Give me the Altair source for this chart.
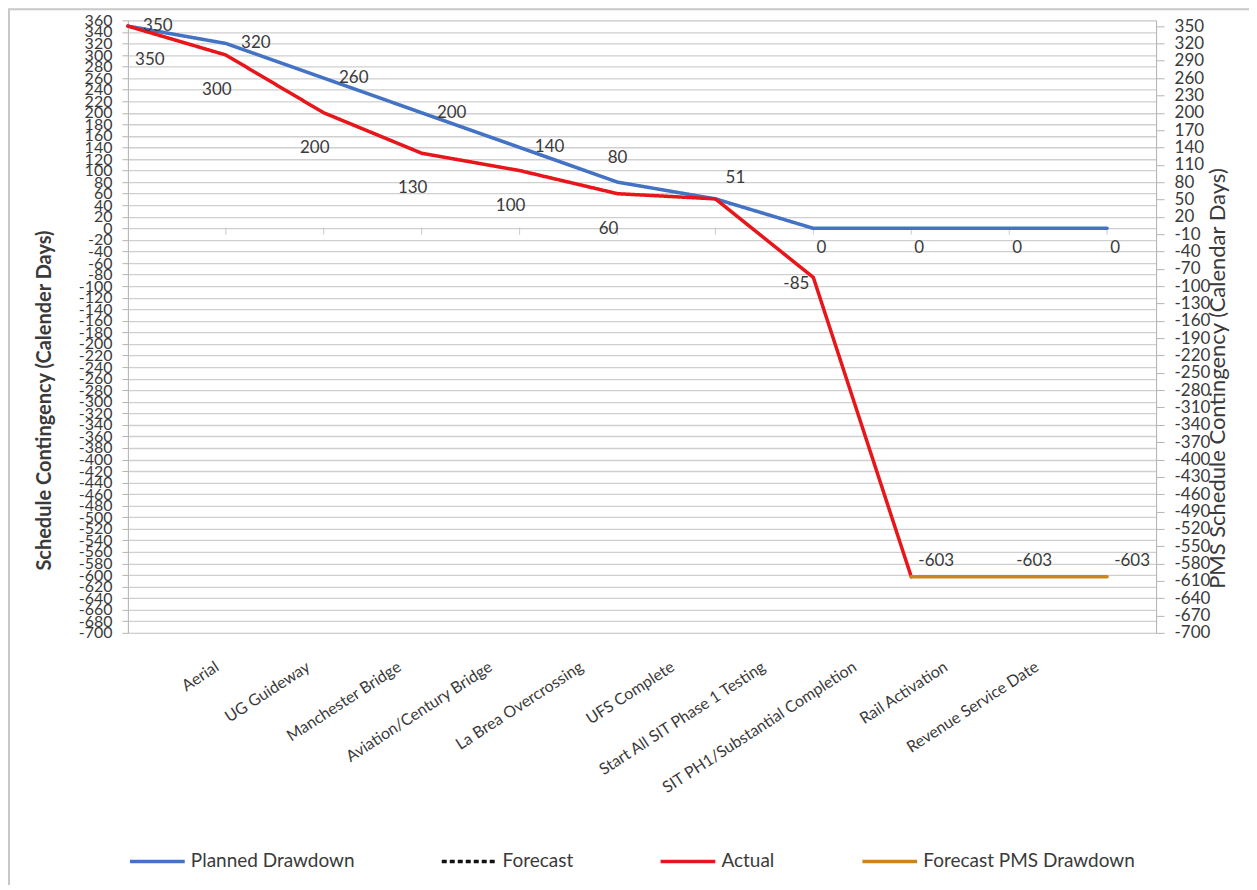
import altair as alt
import pandas as pd

# ---------------- data ----------------
categories = ["", "Aerial", "UG Guideway", "Manchester Bridge", "Aviation/Century Bridge",
              "La Brea Overcrossing", "UFS Complete", "Start All SIT Phase 1 Testing",
              "SIT PH1/Substantial Completion", "Rail Activation", "Revenue Service Date"]
planned = [350, 320, 260, 200, 140, 80, 51, 0, 0, 0, 0]
actual = [350, 300, 200, 130, 100, 60, 51, -85, -603, None, None]
forecast = [None] * 11
forecast_pms = [None, None, None, None, None, None, None, None, -603, -603, -603]

series_names = ["Planned Drawdown", "Forecast", "Actual", "Forecast PMS Drawdown"]
series_colors = ["#4472c4", "#111111", "#e8161b", "#c9861b"]
series_dash = [[1, 0], [5, 3], [1, 0], [1, 0]]

left_ticks = list(range(-700, 361, 20))
right_ticks = list(range(-700, 351, 30))


def to_long(name, vals):
    return [{"i": i, "v": v, "series": name} for i, v in enumerate(vals) if v is not None]


rows = (to_long("Planned Drawdown", planned) + to_long("Forecast", forecast)
        + to_long("Actual", actual) + to_long("Forecast PMS Drawdown", forecast_pms))
df = pd.DataFrame(rows)
cat_df = pd.DataFrame({"i": list(range(len(categories))), "cat": categories}).iloc[1:]

# ---------------- style ----------------
FONT = "Lato"
TXT = "#3a3a3a"
GRID = "#cfcfcf"
AXC = "#b5b5b5"

xs = alt.Scale(domain=[0, 10.5], nice=False, zero=False)
ys = alt.Scale(domain=[-700, 360], nice=False, zero=False)

legend = alt.Legend(orient="none", legendX=0, legendY=812, direction="horizontal", title=None,
                    symbolType="stroke", symbolSize=3000, symbolStrokeWidth=3.5,
                    labelFont=FONT, labelFontSize=19, labelColor=TXT, columnPadding=80,
                    labelOffset=4, labelLimit=500)

color = alt.Color("series:N", scale=alt.Scale(domain=series_names, range=series_colors), legend=legend)
dash = alt.StrokeDash("series:N", scale=alt.Scale(domain=series_names, range=series_dash), legend=legend)

left_axis = alt.Axis(values=left_ticks, labelOverlap=False, labelFlush=False, labelFont=FONT,
                     labelFontSize=16, labelColor=TXT, labelPadding=10, tickSize=6, tickColor=AXC,
                     domainColor=AXC, grid=True, gridColor=GRID, gridWidth=1.3,
                     title="Schedule Contingency (Calender Days)", titleFont=FONT, titleFontSize=20,
                     titleFontWeight="bold", titleColor=TXT, titleAngle=270, titleX=-83, titleY=380,
                     titleAlign="center", titleBaseline="middle")

right_axis = alt.Axis(orient="right", values=right_ticks, labelOverlap=False, labelFlush=False,
                      labelFont=FONT, labelFontSize=17, labelColor=TXT, labelPadding=10, tickSize=8,
                      tickColor=AXC, domainColor=AXC, grid=False,
                      title="PMS Schedule Contingency (Calendar Days)", titleFont=FONT,
                      titleFontSize=22, titleFontWeight="normal", titleColor=TXT, titleAngle=270,
                      titleX=61, titleY=358, titleAlign="center", titleBaseline="middle")

X = alt.X("i:Q", scale=xs, axis=None)
base = alt.Chart(df)


def line_layer(name, axis):
    return base.transform_filter(f"datum.series == '{name}'").mark_line(
        strokeWidth=3.5, strokeJoin="round", strokeCap="round").encode(
        x=X, y=alt.Y("v:Q", scale=ys, axis=axis, title=None if axis is None else axis.title),
        color=color, strokeDash=dash)


planned_line = line_layer("Planned Drawdown", left_axis)
forecast_line = line_layer("Forecast", None)
actual_line = line_layer("Actual", None)
pms_line = line_layer("Forecast PMS Drawdown", right_axis)

zero_ticks = alt.Chart(cat_df).transform_calculate(zero="0").mark_tick(
    orient="vertical", size=7, thickness=1, color=AXC, yOffset=3).encode(
    x=X, y=alt.Y("zero:Q", scale=ys, axis=None))

# light frame around the whole chart (top and left edges visible, as in the reference)
frame = alt.Chart(cat_df).transform_filter("datum.i == 1").mark_rect(
    fill=None, stroke="#c8c8c8", strokeWidth=2).encode(
    x=alt.value(-119), x2=alt.value(1400), y=alt.value(-11), y2=alt.value(1400))


def label_layer(name, cond, dx, dy):
    return base.transform_filter(f"datum.series == '{name}' && ({cond})").mark_text(
        dx=dx, dy=dy, font=FONT, fontSize=17, color=TXT).encode(
        x=X, y=alt.Y("v:Q", scale=ys, axis=None), text=alt.Text("v:Q", format="d"))


labels = [
    label_layer("Planned Drawdown", "datum.i <= 4", 30, 0),
    label_layer("Planned Drawdown", "datum.i == 5", 0, -24),
    label_layer("Planned Drawdown", "datum.i == 6", 20, -21),
    label_layer("Planned Drawdown", "datum.i >= 7", 8, 20),
    label_layer("Actual", "datum.i == 0", 22, 34),
    label_layer("Actual", "datum.i >= 1 && datum.i <= 5", -9, 35),
    label_layer("Actual", "datum.i == 7", -17, 7),
    label_layer("Forecast PMS Drawdown", "true", 25, -16),
]

cat_labels = alt.Chart(cat_df).transform_calculate(xl="datum.i * 0.93 - 0.06", yl="-700").mark_text(
    angle=327, align="right", baseline="top", yOffset=26, font=FONT, fontSize=16, color=TXT).encode(
    x=alt.X("xl:Q", scale=xs, axis=None), y=alt.Y("yl:Q", scale=ys, axis=None), text="cat:N")

chart = alt.layer(
    frame, zero_ticks, planned_line, forecast_line, actual_line, pms_line, *labels, cat_labels
).resolve_axis(y="independent").properties(
    width=1029, height=613,
    autosize=alt.AutoSizeParams(type="none"),
    padding={"left": 120, "top": 12, "right": 93, "bottom": 252},
).configure_view(stroke=None).configure(
    background="white",
    locale={"number": {"decimal": ".", "thousands": ",", "grouping": [3],
                       "currency": ["$", ""], "minus": "-"}},
)

chart.save("out.html", embed_options={"renderer": "svg", "actions": False})
